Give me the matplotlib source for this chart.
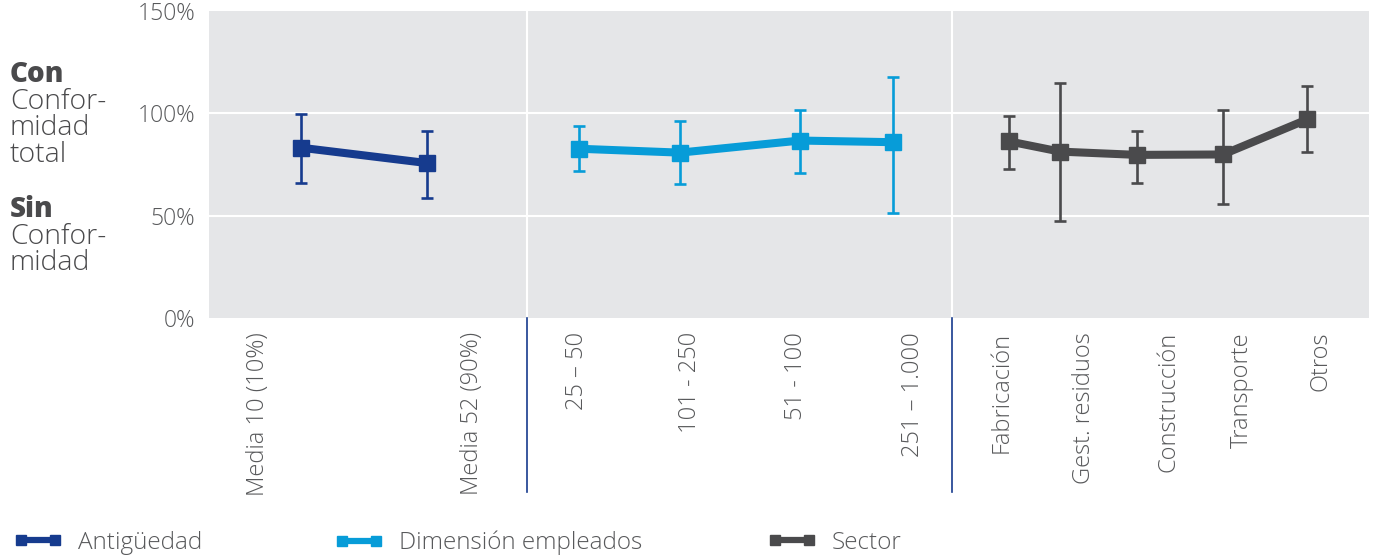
import matplotlib.pyplot as plt
from matplotlib.lines import Line2D

# medias (%) con limites superior e inferior de cada barra de error
antig_cats = ["Media 10 (10%)", "Media 52 (90%)"]
antig_val = [83.2, 75.7]
antig_hi = [99.5, 91.6]
antig_lo = [66.2, 58.4]

dim_cats = ["25 – 50", "101 - 250", "51 - 100", "251 – 1.000"]
dim_val = [82.7, 80.8, 86.7, 85.9]
dim_hi = [93.7, 96.3, 101.8, 117.9]
dim_lo = [71.7, 65.6, 71.0, 51.3]

sec_cats = ["Fabricación", "Gest. residuos", "Construcción", "Transporte", "Otros"]
sec_val = [86.3, 81.3, 79.7, 79.9, 97.0]
sec_hi = [98.7, 114.9, 91.4, 101.8, 113.2]
sec_lo = [72.7, 47.3, 66.0, 55.9, 81.1]

ytick_vals = [0, 50, 100, 150]
ytick_txt = ["0%", "50%", "100%", "150%"]

series_nombres = ["Antigüedad", "Dimensión empleados", "Sector"]

# colocacion en el eje x
pos_antig = [0.92, 2.18]
pos_dim = [3.70, 4.71, 5.91, 6.84]
pos_sec = [8.00, 8.51, 9.28, 10.14, 10.98]
pos_labels = [0.49, 2.63, 3.68, 4.81, 5.87, 7.04, 7.93, 8.75, 9.59, 10.33, 11.11]
separadores = [3.18, 7.43]

c_antig = "#163b8e"
c_dim = "#079cd8"
c_sec = "#4a4a4c"
gris = "#58595b"

plt.rcParams['font.family'] = ['Open Sans', 'DejaVu Sans']

fig = plt.figure(figsize=(13.75, 5.56), dpi=100)
ax = fig.add_axes([209 / 1375, 1 - 318 / 556, 1160 / 1375, 307 / 556])
ax.set_facecolor("#e5e6e8")
ax.set_xlim(0, 11.6)
ax.set_ylim(0, 150)
for s in ax.spines.values():
    s.set_visible(False)

for y in [50, 100]:
    ax.axhline(y, color="white", lw=1.5, zorder=1)
for xs in separadores:
    ax.axvline(xs, color="white", lw=1.5, zorder=1)
    ax.axvline(xs, ymin=-0.567, ymax=0, color=c_antig, lw=1.2, clip_on=False)


def serie(pos, val, hi, lo, color):
    err = [[v - l for v, l in zip(val, lo)], [h - v for v, h in zip(val, hi)]]
    ax.errorbar(pos, val, yerr=err, fmt="none", ecolor=color,
                elinewidth=1.9, capsize=4.5, capthick=1.9, zorder=3)
    ax.plot(pos, val, color=color, lw=5.8, marker="s", ms=11,
            solid_capstyle="projecting", zorder=4)


serie(pos_antig, antig_val, antig_hi, antig_lo, c_antig)
serie(pos_dim, dim_val, dim_hi, dim_lo, c_dim)
serie(pos_sec, sec_val, sec_hi, sec_lo, c_sec)

ax.set_xticks(pos_labels)
ax.set_xticklabels(antig_cats + dim_cats + sec_cats, rotation=90,
                   fontsize=17, color=gris, fontweight=300)
ax.tick_params(axis="x", length=0, pad=10)
ax.set_yticks(ytick_vals)
ax.set_yticklabels(ytick_txt, fontsize=16.5, color=gris, fontweight=300)
ax.tick_params(axis="y", length=0, pad=10)

# rotulos de la escala a la izquierda
bloques = [
    (82, "Con", ["Confor-", "midad", "total"]),
    (217, "Sin", ["Confor-", "midad"]),
]
for y0, titulo, lineas in bloques:
    fig.text(10 / 1375, 1 - y0 / 556, titulo, fontsize=20, fontweight="heavy",
             color="#4a4a4c", va="baseline", ha="left")
    for i, t in enumerate(lineas):
        fig.text(10 / 1375, 1 - (y0 + 26.7 * (i + 1)) / 556, t, fontsize=20.5,
                 fontweight=300, color="#4a4a4c", va="baseline", ha="left")

# leyenda: una entrada por serie, cada una en su sitio
leyenda_x = [14, 335, 768]
for c, nombre, x0 in zip((c_antig, c_dim, c_sec), series_nombres, leyenda_x):
    h = Line2D([], [], color=c, lw=4.5, marker="s", ms=7.5, solid_capstyle="butt")
    fig.legend([h], [nombre], loc="center left",
               bbox_to_anchor=(x0 / 1375, 1 - 543 / 556), frameon=False,
               numpoints=2, handlelength=2.0, handletextpad=0.62,
               borderpad=0, borderaxespad=0,
               prop={"size": 17.5, "weight": 300}, labelcolor=gris)

fig.savefig("out.png", dpi=100)
